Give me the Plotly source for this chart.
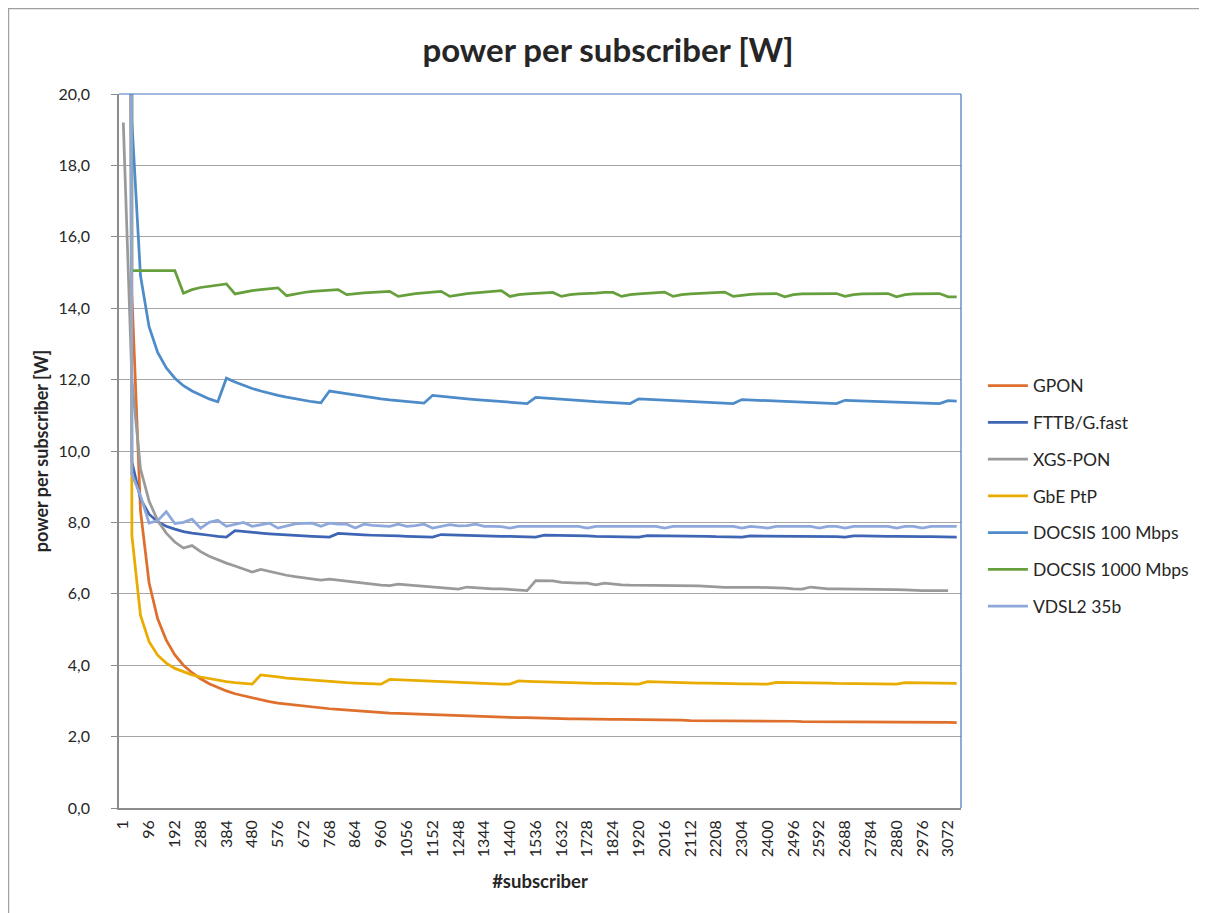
import plotly.graph_objects as go

# subscriber counts (category axis)
subscribers = [1, 32, 64, 96, 128, 160, 192, 224, 256, 288,
	320, 352, 384, 416, 448, 480, 512, 544, 576, 608,
	640, 672, 704, 736, 768, 800, 832, 864, 896, 928,
	960, 992, 1024, 1056, 1088, 1120, 1152, 1184, 1216, 1248,
	1280, 1312, 1344, 1376, 1408, 1440, 1472, 1504, 1536, 1568,
	1600, 1632, 1664, 1696, 1728, 1760, 1792, 1824, 1856, 1888,
	1920, 1952, 1984, 2016, 2048, 2080, 2112, 2144, 2176, 2208,
	2240, 2272, 2304, 2336, 2368, 2400, 2432, 2464, 2496, 2528,
	2560, 2592, 2624, 2656, 2688, 2720, 2752, 2784, 2816, 2848,
	2880, 2912, 2944, 2976, 3008, 3040, 3072, 3104]

# labels Excel shows on the axis (every third category)
tick_labels = ["1", "96", "192", "288", "384", "480", "576", "672", "768", "864",
	"960", "1056", "1152", "1248", "1344", "1440", "1536", "1632", "1728", "1824",
	"1920", "2016", "2112", "2208", "2304", "2400", "2496", "2592", "2688", "2784",
	"2880", "2976", "3072"]

gpon = [390.3, 14.40, 8.33, 6.31, 5.30, 4.70, 4.29, 4.00, 3.79, 3.62,
	3.48, 3.37, 3.28, 3.20, 3.14, 3.08, 3.03, 2.98, 2.94, 2.91,
	2.88, 2.85, 2.82, 2.80, 2.78, 2.76, 2.74, 2.72, 2.70, 2.69,
	2.67, 2.66, 2.65, 2.64, 2.63, 2.62, 2.61, 2.60, 2.59, 2.58,
	2.57, 2.57, 2.56, 2.55, 2.55, 2.54, 2.53, 2.53, 2.52, 2.52,
	2.51, 2.51, 2.50, 2.50, 2.49, 2.49, 2.49, 2.48, 2.48, 2.48,
	2.47, 2.47, 2.47, 2.46, 2.46, 2.46, 2.45, 2.45, 2.45, 2.45,
	2.44, 2.44, 2.44, 2.44, 2.43, 2.43, 2.43, 2.43, 2.43, 2.42,
	2.42, 2.42, 2.42, 2.42, 2.41, 2.41, 2.41, 2.41, 2.41, 2.41,
	2.40, 2.40, 2.40, 2.40, 2.40, 2.40, 2.40, 2.39]

fttb = [89.1, 9.70, 8.66, 8.23, 8.02, 7.89, 7.81, 7.74, 7.70, 7.66,
	7.64, 7.61, 7.59, 7.77, 7.74, 7.72, 7.70, 7.68, 7.66, 7.65,
	7.64, 7.62, 7.61, 7.60, 7.59, 7.69, 7.67, 7.66, 7.65, 7.64,
	7.64, 7.63, 7.62, 7.61, 7.61, 7.60, 7.59, 7.66, 7.65, 7.64,
	7.64, 7.63, 7.62, 7.62, 7.61, 7.61, 7.60, 7.60, 7.59, 7.64,
	7.64, 7.63, 7.63, 7.62, 7.62, 7.61, 7.61, 7.60, 7.60, 7.60,
	7.59, 7.63, 7.63, 7.62, 7.62, 7.62, 7.61, 7.61, 7.61, 7.60,
	7.60, 7.60, 7.59, 7.62, 7.62, 7.62, 7.62, 7.61, 7.61, 7.61,
	7.60, 7.60, 7.60, 7.60, 7.59, 7.62, 7.62, 7.61, 7.61, 7.61,
	7.61, 7.60, 7.60, 7.60, 7.60, 7.59, 7.59, 7.59]

xgspon = [19.20, 12.00, 9.50, 8.60, 8.05, 7.70, 7.45, 7.28, 7.35, 7.18,
	7.05, 6.95, 6.86, 6.78, 6.70, 6.61, 6.68, 6.62, 6.57, 6.52,
	6.48, 6.45, 6.42, 6.38, 6.41, 6.38, 6.35, 6.32, 6.30, 6.27,
	6.24, 6.23, 6.27, 6.25, 6.23, 6.21, 6.20, 6.18, 6.16, 6.13,
	6.19, 6.17, 6.14, 6.14, 6.14, 6.12, 6.09, 6.09, 6.37, 6.37,
	6.36, 6.32, 6.30, 6.30, 6.30, 6.25, 6.30, 6.27, 6.25, 6.24,
	6.24, 6.23, 6.23, 6.22, 6.24, 6.23, 6.23, 6.22, 6.21, 6.19,
	6.18, 6.18, 6.19, 6.18, 6.18, 6.18, 6.17, 6.16, 6.14, 6.13,
	6.19, 6.16, 6.14, 6.14, 6.14, 6.14, 6.14, 6.14, 6.14, 6.13,
	6.12, 6.11, 6.09, 6.09, 6.09, 6.09, 6.09]

gbe_ptp = [145.8, 7.63, 5.40, 4.66, 4.28, 4.06, 3.91, 3.81, 3.73, 3.67,
	3.62, 3.58, 3.54, 3.51, 3.49, 3.47, 3.73, 3.69, 3.67, 3.64,
	3.62, 3.59, 3.58, 3.56, 3.54, 3.53, 3.51, 3.50, 3.49, 3.48,
	3.47, 3.60, 3.59, 3.58, 3.56, 3.55, 3.54, 3.53, 3.52, 3.51,
	3.50, 3.50, 3.49, 3.48, 3.47, 3.47, 3.56, 3.55, 3.54, 3.53,
	3.53, 3.52, 3.51, 3.51, 3.50, 3.49, 3.49, 3.48, 3.48, 3.47,
	3.47, 3.54, 3.53, 3.52, 3.52, 3.51, 3.51, 3.50, 3.50, 3.49,
	3.49, 3.48, 3.48, 3.48, 3.47, 3.47, 3.52, 3.52, 3.51, 3.51,
	3.50, 3.50, 3.50, 3.49, 3.49, 3.48, 3.48, 3.48, 3.47, 3.47,
	3.47, 3.51, 3.51, 3.51, 3.50, 3.50, 3.49, 3.49]

docsis100 = [286.6, 19.23, 14.91, 13.48, 12.76, 12.33, 12.04, 11.83, 11.68, 11.56,
	11.46, 11.38, 12.04, 11.93, 11.83, 11.75, 11.68, 11.61, 11.56, 11.51,
	11.46, 11.42, 11.38, 11.35, 11.68, 11.64, 11.60, 11.56, 11.52, 11.49,
	11.46, 11.43, 11.41, 11.38, 11.36, 11.34, 11.56, 11.53, 11.51, 11.48,
	11.46, 11.44, 11.42, 11.40, 11.38, 11.37, 11.35, 11.33, 11.50, 11.48,
	11.46, 11.45, 11.43, 11.41, 11.40, 11.38, 11.37, 11.36, 11.34, 11.33,
	11.46, 11.45, 11.43, 11.42, 11.41, 11.40, 11.38, 11.37, 11.36, 11.35,
	11.34, 11.33, 11.44, 11.43, 11.42, 11.40, 11.39, 11.38, 11.37, 11.36,
	11.35, 11.35, 11.34, 11.33, 11.42, 11.41, 11.40, 11.39, 11.38, 11.38,
	11.37, 11.36, 11.35, 11.34, 11.33, 11.33, 11.41, 11.40]

docsis1000 = [300.0, 15.05, 15.05, 15.05, 15.05, 15.05, 15.05, 14.42, 14.52, 14.58,
	14.62, 14.65, 14.68, 14.40, 14.45, 14.49, 14.52, 14.55, 14.57, 14.35,
	14.40, 14.44, 14.47, 14.49, 14.51, 14.52, 14.38, 14.41, 14.43, 14.44,
	14.46, 14.47, 14.33, 14.38, 14.41, 14.43, 14.45, 14.47, 14.33, 14.38,
	14.41, 14.43, 14.45, 14.47, 14.49, 14.33, 14.38, 14.40, 14.41, 14.43,
	14.44, 14.33, 14.38, 14.40, 14.40, 14.42, 14.44, 14.44, 14.33, 14.38,
	14.40, 14.41, 14.43, 14.45, 14.33, 14.38, 14.40, 14.41, 14.42, 14.43,
	14.45, 14.33, 14.37, 14.39, 14.40, 14.41, 14.41, 14.32, 14.38, 14.40,
	14.40, 14.41, 14.41, 14.41, 14.33, 14.38, 14.40, 14.40, 14.41, 14.41,
	14.32, 14.38, 14.40, 14.40, 14.41, 14.41, 14.32, 14.32]

vdsl2 = [200.0, 9.35, 8.75, 7.98, 8.05, 8.30, 7.97, 8.00, 8.09, 7.84,
	8.00, 8.06, 7.89, 7.95, 8.00, 7.89, 7.94, 7.98, 7.84, 7.91,
	7.96, 7.97, 7.98, 7.89, 7.98, 7.95, 7.95, 7.84, 7.95, 7.92,
	7.91, 7.89, 7.95, 7.89, 7.91, 7.95, 7.84, 7.90, 7.94, 7.90,
	7.91, 7.95, 7.89, 7.89, 7.88, 7.84, 7.89, 7.89, 7.89, 7.89,
	7.89, 7.89, 7.89, 7.89, 7.84, 7.89, 7.89, 7.89, 7.89, 7.89,
	7.89, 7.89, 7.89, 7.84, 7.89, 7.89, 7.89, 7.89, 7.89, 7.89,
	7.89, 7.89, 7.84, 7.89, 7.87, 7.84, 7.89, 7.89, 7.89, 7.89,
	7.89, 7.84, 7.89, 7.89, 7.84, 7.89, 7.89, 7.89, 7.89, 7.89,
	7.84, 7.89, 7.89, 7.84, 7.89, 7.89, 7.89, 7.89]

series = [
	('GPON', gpon, '#DF6F2C'),
	('FTTB/G.fast', fttb, '#3E66B4'),
	('XGS-PON', xgspon, '#9A9A9A'),
	('GbE PtP', gbe_ptp, '#E9AC00'),
	('DOCSIS 100 Mbps', docsis100, '#4D8BC9'),
	('DOCSIS 1000 Mbps', docsis1000, '#66A03C'),
	('VDSL2 35b', vdsl2, '#8EA8DB'),
]

cats = [str(n) for n in subscribers]

# figure size / margins (the page body adds an 8px offset)
W = 1199; H = 905
L = 111; R = 246; T = 86; B = 105
PW = W - L - R; PH = H - T - B

def px2paper(px, py):
	return (px - L) / PW, (H - B - py) / PH

fig = go.Figure()
for name, values, color in series:
	fig.add_trace(go.Scatter(x=cats[:len(values)], y=values, name=name, legendgroup=name,
		mode='lines', line=dict(color=color, width=2.75)))

axis_grey = '#8C8C8C'
fig.update_xaxes(type='category', range=[-0.5, len(cats) - 0.5],
	tickmode='array', tickvals=tick_labels, ticktext=tick_labels, tickangle=-90,
	tickfont=dict(size=16), ticklabelstandoff=4,
	showgrid=False, showline=True, linecolor=axis_grey, linewidth=1.5, ticks='',
	title=dict(text='<b>#subscriber</b>', font=dict(size=18.5), standoff=19))
fig.update_yaxes(range=[0, 20], dtick=2, tickformat='.1f', tickfont=dict(size=16),
	showgrid=True, gridcolor='#A6A6A6', gridwidth=1.3, zeroline=False,
	showline=True, linecolor=axis_grey, linewidth=1.5,
	ticks='outside', ticklen=6, tickcolor=axis_grey, ticklabelstandoff=18,
	title=dict(text='<b>power per subscriber [W]</b>', font=dict(size=18), standoff=5))

# plot area frame (blue top/right) and chart area border
blue = '#4472C4'
fig.add_shape(type='line', xref='paper', yref='paper', x0=0, x1=1, y0=1, y1=1, line=dict(color=blue, width=1.2))
fig.add_shape(type='line', xref='paper', yref='paper', x0=1, x1=1, y0=0, y1=1, line=dict(color=blue, width=1.2))
bx0, by1 = px2paper(0.6, 0.6)
bx1, by0 = px2paper(W + 20, H + 20)
fig.add_shape(type='rect', xref='paper', yref='paper', x0=bx0, x1=bx1, y0=by0, y1=by1,
	line=dict(color='#A0A0A0', width=1.2))

fig.update_layout(
	width=W, height=H,
	margin=dict(l=L, r=R, t=T, b=B),
	paper_bgcolor='white', plot_bgcolor='white',
	separators=',.',
	font=dict(family='Lato, "Open Sans", sans-serif', size=16, color='#262626'),
	title=dict(text='<b>power per subscriber [W]</b>', xref='container', yref='container',
		x=600 / W, y=1 - 42 / H, xanchor='center', yanchor='middle', font=dict(size=33)),
	legend=dict(x=1.026, y=0.6167, xanchor='left', yanchor='top', traceorder='grouped',
		tracegroupgap=11, itemwidth=40, font=dict(size=17.5), bgcolor='rgba(0,0,0,0)'),
	showlegend=True,
)

fig.write_html('out.html')
